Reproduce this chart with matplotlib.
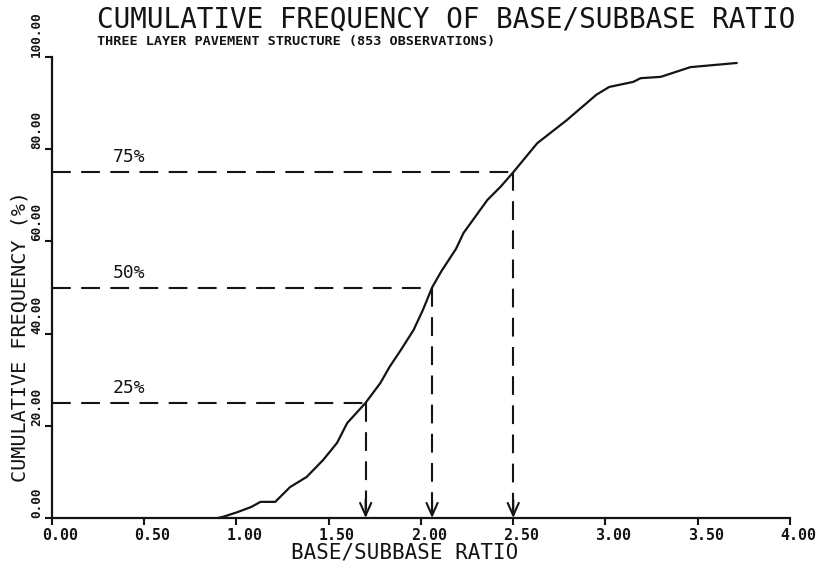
import matplotlib
matplotlib.use("Agg")
import matplotlib.pyplot as plt
from matplotlib.transforms import ScaledTranslation

# ---- data ----
ratio = [0.90, 0.93, 1.00, 1.08, 1.13, 1.21, 1.29, 1.38, 1.47, 1.545, 1.60, 1.70,
         1.78, 1.83, 1.89, 1.96, 2.01, 2.06, 2.11, 2.19, 2.23, 2.36, 2.43, 2.50,
         2.63, 2.79, 2.95, 3.02, 3.15, 3.19, 3.30, 3.46, 3.71]
cum_freq = [0.0, 0.3, 1.2, 2.4, 3.5, 3.5, 6.7, 8.9, 12.6, 16.3, 20.6, 25.0,
            29.3, 32.8, 36.4, 40.8, 45.1, 50.0, 53.5, 58.4, 61.8, 69.0, 71.8, 75.0,
            81.3, 86.3, 91.8, 93.5, 94.6, 95.4, 95.7, 97.8, 98.7]
quart_x = [1.70, 2.06, 2.50]
quart_y = [25, 50, 75]
quart_labels = ["25%", "50%", "75%"]
xticks = [0.0, 0.5, 1.0, 1.5, 2.0, 2.5, 3.0, 3.5, 4.0]
xticklabels = ["0.00", "0.50", "1.00", "1.50", "2.00", "2.50", "3.00", "3.50", "4.00"]
yticks = [0, 20, 40, 60, 80, 100]
yticklabels = ["0.00", "20.00", "40.00", "60.00", "80.00", "100.00"]

INK = "#141414"
MONO = "DejaVu Sans Mono"

fig = plt.figure(figsize=(8.28, 5.65), dpi=100)
ax = fig.add_axes([52/828, 1-518/565, (790-52)/828, (518-57)/565])

ax.plot(ratio, cum_freq, color=INK, lw=1.6, solid_joinstyle="round")

for qx, qy, ql in zip(quart_x, quart_y, quart_labels):
    ax.plot([0, qx], [qy, qy], color=INK, lw=1.5, dashes=(9, 5))
    ax.plot([qx, qx], [qy, 0.5], color=INK, lw=1.5, dashes=(9, 5))
    ax.annotate("", xy=(qx, 0), xytext=(qx, 4),
                arrowprops=dict(arrowstyle="->,head_length=0.45,head_width=0.2",
                                color=INK, lw=1.5, mutation_scale=20,
                                shrinkA=0, shrinkB=0))
    ax.text(0.33, qy + 1.3, ql, fontsize=13, family=MONO, color=INK,
            ha="left", va="bottom")

ax.set_xlim(0, 4)
ax.set_ylim(0, 100)
for s in ("top", "right"):
    ax.spines[s].set_visible(False)
for s in ("left", "bottom"):
    ax.spines[s].set_linewidth(1.6)
    ax.spines[s].set_color(INK)

ax.set_xticks(xticks)
ax.set_xticklabels(xticklabels, family=MONO, fontweight="bold", fontsize=10.8, color=INK)
ax.set_yticks(yticks)
ax.set_yticklabels(yticklabels, family=MONO, fontweight="bold", fontsize=9.2,
                   color=INK, rotation=90, va="bottom", ha="center")
ax.tick_params(axis="both", direction="out", length=5, width=1.5, color=INK)
ax.tick_params(axis="x", pad=2)
ax.tick_params(axis="y", pad=6)

off = ScaledTranslation(-10/100, 0, fig.dpi_scale_trans)
for lab in ax.get_xticklabels():
    lab.set_ha("left")
    lab.set_transform(lab.get_transform() + off)

ax.set_xlabel("BASE/SUBBASE RATIO", family=MONO, fontsize=15, color=INK)
ax.xaxis.set_label_coords((405-52)/738, (518-543)/461)
ax.set_ylabel("CUMULATIVE FREQUENCY (%)", family=MONO, fontsize=14.5, color=INK)
ax.yaxis.set_label_coords(-(52-30)/738, (518-336)/461)

fig.text(97/828, 1-6/565, "CUMULATIVE FREQUENCY OF BASE/SUBBASE RATIO",
         family=MONO, fontsize=19.9, color=INK, ha="left", va="top")
fig.text(97/828, 1-35/565, "THREE LAYER PAVEMENT STRUCTURE (853 OBSERVATIONS)",
         family=MONO, fontsize=9.7, fontweight="bold", color=INK, ha="left", va="top")

fig.savefig("out.png", dpi=100, facecolor="white")
